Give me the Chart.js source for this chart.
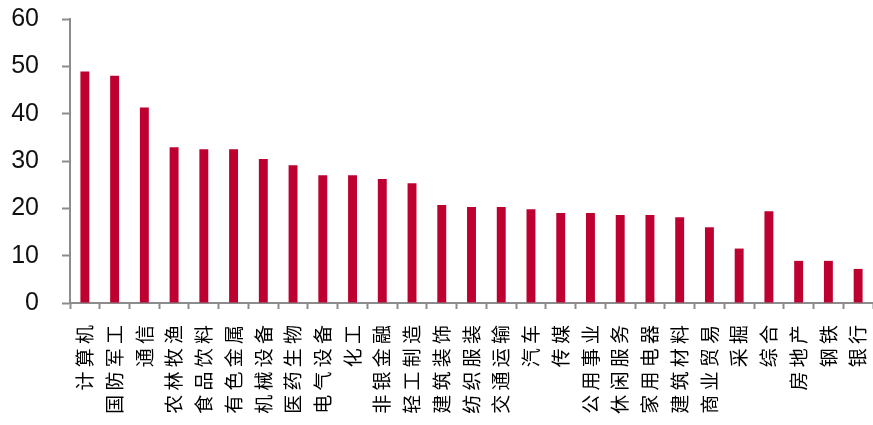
<!DOCTYPE html>
<html>
<head>
<meta charset="utf-8">
<script src="https://cdn.jsdelivr.net/npm/chart.js@4.4.1/dist/chart.umd.min.js"></script>
<style>
    html, body { margin: 0; padding: 0; background: #ffffff; }
    #wrap { width: 873px; height: 425px; }
</style>
</head>
<body>
<div id="wrap"><canvas id="myChart" width="873" height="425"></canvas></div>
<script>
const industries = [
    '计算机', '国防军工', '通信', '农林牧渔', '食品饮料', '有色金属', '机械设备',
    '医药生物', '电气设备', '化工', '非银金融', '轻工制造', '建筑装饰', '纺织服装',
    '交通运输', '汽车', '传媒', '公用事业', '休闲服务', '家用电器', '建筑材料',
    '商业贸易', '采掘', '综合', '房地产', '钢铁', '银行'
];
const values = [
    48.9, 48.0, 41.3, 32.9, 32.5, 32.5, 30.4,
    29.1, 27.0, 27.0, 26.2, 25.3, 20.7, 20.3,
    20.3, 19.8, 19.0, 19.0, 18.6, 18.6, 18.1,
    16.0, 11.5, 19.4, 8.9, 8.9, 7.2
];
const yTicks = [0, 10, 20, 30, 40, 50, 60];

const barColor = '#BE0030';
const axisColor = '#8C8C8C';

// one space between the characters keeps the vertical labels airy
const spacedLabel = function (value) {
    return this.getLabelForValue(value).split('').join(' ');
};

const data = {
    labels: industries,
    datasets: [{
        data: values,
        backgroundColor: barColor,
        borderWidth: 0,
        barPercentage: 0.6,
        categoryPercentage: 0.5
    }]
};

const options = {
    responsive: false,
    devicePixelRatio: 1,
    animation: false,
    layout: {
        padding: { top: 19, right: 0, bottom: 0, left: 0 }
    },
    scales: {
        x: {
            offset: true,
            grid: {
                offset: true,
                display: true,
                drawOnChartArea: false,
                drawTicks: true,
                tickLength: 6,
                tickWidth: 2,
                tickColor: axisColor
            },
            border: { color: axisColor, width: 2 },
            ticks: {
                autoSkip: false,
                minRotation: 90,
                maxRotation: 90,
                padding: 16,
                color: '#000000',
                font: { family: '"Noto Sans CJK SC", sans-serif', size: 19 },
                callback: spacedLabel
            },
            afterFit: (scale) => {
                scale.height = 122;
                scale.paddingLeft = 0;
                scale.paddingRight = 0;
            }
        },
        y: {
            min: 0,
            max: 60,
            afterBuildTicks: (scale) => {
                scale.ticks = yTicks.map((v) => ({ value: v }));
            },
            grid: {
                display: true,
                drawOnChartArea: false,
                drawTicks: true,
                tickLength: 8,
                tickWidth: 2,
                tickColor: axisColor
            },
            border: { color: axisColor, width: 2 },
            ticks: {
                padding: 23,
                color: '#111111',
                font: { family: '"Liberation Sans", Arial, sans-serif', size: 25 }
            },
            afterFit: (scale) => {
                scale.width = 70;
                scale.paddingTop = 0;
                scale.paddingBottom = 0;
            }
        }
    },
    plugins: {
        legend: { display: false },
        tooltip: { enabled: false }
    }
};

new Chart(document.getElementById('myChart'), {
    type: 'bar',
    data: data,
    options: options
});
</script>
</body>
</html>
